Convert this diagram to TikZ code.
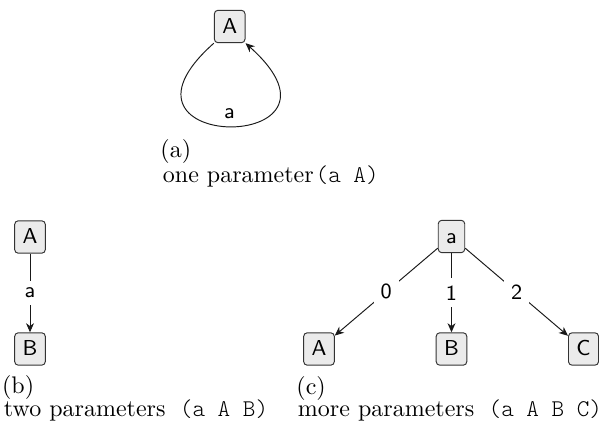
\documentclass[tikz,border=0pt]{standalone}
\usepackage{fontspec}
\setmonofont{lmmonolt10-regular}[Extension=.otf]
\usetikzlibrary{arrows.meta}
\begin{document}
\begin{tikzpicture}[x=0.4167pt, y=-0.4167pt,
  sym/.style={draw=black!80, fill=black!8, rounded corners=1.5pt,
    font=\sffamily\small, inner xsep=3.3pt, inner ysep=3pt,
    text height=6.6pt, text depth=0.9pt, line width=0.4pt},
  link/.style={draw=black!90, line width=0.4pt,
    -{Stealth[length=3.8pt,width=3.3pt,inset=1.2pt]}},
  tag/.style={font=\sffamily\small, fill=white, inner sep=3pt},
  captxt/.style={anchor=base west, inner sep=0pt}]
\useasboundingbox (0,0) rectangle (610,424);

% (a) a single parameter: self loop
\node[sym] (A1) at (229.7,26.5) {A};
\draw[link] (A1.south west) .. controls +(-125.4,111) and +(124.6,111) .. (A1.south east)
  node[pos=0.5, above, font=\sffamily\small, inner sep=3pt] (la) {a};

% (b) two parameters: one edge
\node[sym] (A2) at (30,237) {A};
\node[sym] (B2) at (30,349) {B};
\draw[link] (A2) -- node[tag] (lb) {a} (B2);

% (c) more parameters: numbered edges
\node[sym] (r3) at (451.5,236.5) {a};
\node[sym] (A3) at (319,349) {A};
\node[sym] (B3) at (451.5,349) {B};
\node[sym] (C3) at (583.5,349) {C};
\draw[link] (r3) -- node[tag] (l0) {0} (A3);
\draw[link] (r3) -- node[tag] (l1) {1} (B3);
\draw[link] (r3) -- node[tag] (l2) {2} (C3);

% captions
\node[captxt] (ca) at (160,157.5) {(a)};
\node[captxt] (ta) at (162.5,182.5) {one parameter\hspace{0.8pt}\texttt{(a A)}};
\node[captxt] (cb) at (1.6,394) {(b)};
\node[captxt] (tb) at (3.5,416.5) {two parameters\hspace{6pt}\texttt{(a A B)}};
\node[captxt] (cc) at (296,395) {(c)};
\node[captxt] (tc) at (297.5,416.5) {more parameters\hspace{6pt}\texttt{(a A B C)}};
\end{tikzpicture}
\end{document}
